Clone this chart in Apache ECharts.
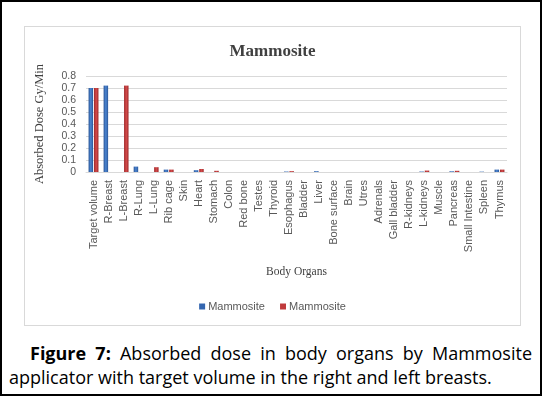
<!DOCTYPE html>
<html>
<head>
<meta charset="utf-8">
<script src="https://cdn.jsdelivr.net/npm/echarts@6/dist/echarts.min.js"></script>
<style>
html,body{margin:0;padding:0;background:#fff;}
#page{position:relative;width:542px;height:396px;box-sizing:border-box;border:2px solid #000;overflow:hidden;background:#fff;}
#chart{position:absolute;left:22px;top:24px;width:497px;height:300px;border:1px solid #d9d9d9;box-sizing:border-box;}
.cap{position:absolute;font-family:"Open Sans",sans-serif;font-size:18px;line-height:24px;color:#000;white-space:nowrap;}
#cap1{left:28px;top:339px;width:502px;text-align:justify;text-align-last:justify;white-space:normal;}
#cap2{left:7px;top:363px;}
</style>
</head>
<body>
<div id="page">
  <div id="chart"></div>
  <div class="cap" id="cap1"><b>Figure 7:</b> Absorbed dose in body organs by Mammosite</div>
  <div class="cap" id="cap2">applicator with target volume in the right and left breasts.</div>
</div>
<script>
const categories = ["Target volume","R-Breast","L-Breast","R-Lung","L-Lung","Rib cage","Skin","Heart","Stomach","Colon","Red bone","Testes","Thyroid","Esophagus","Bladder","Liver","Bone surface","Brain","Utres","Adrenals","Gall bladder","R-kidneys","L-kidneys","Muscle","Pancreas","Small Intestine","Spleen","Thymus"];
const rightBreast = [0.70,0.72,0,0.045,0,0.02,0,0.015,0,0,0,0,0,0.004,0,0.007,0,0,0,0,0,0,0.004,0,0.006,0,0.003,0.02];
const leftBreast  = [0.70,0,0.72,0,0.04,0.02,0,0.025,0.01,0,0,0,0,0.007,0,0,0,0,0,0,0,0,0.012,0,0.01,0,0,0.02];
const seriesNames = ["Mammosite","Mammosite"];
const yTicks = {min:0,max:0.8,interval:0.1};

function grad(dark, light){
  return new echarts.graphic.LinearGradient(0,0,1,0,[
    {offset:0,color:dark},{offset:0.5,color:light},{offset:1,color:dark}
  ]);
}
const chart = echarts.init(document.getElementById('chart'));
chart.setOption({
  animation:false,
  title:{text:'Mammosite',left:'center',top:11,textStyle:{fontFamily:'Liberation Serif',fontSize:17,fontWeight:'bold',color:'#404040'}},
  legend:{bottom:8,left:'center',itemWidth:6,itemHeight:6,itemGap:12,icon:'rect',
    textStyle:{fontFamily:'Liberation Sans',fontSize:11,color:'#595959',padding:[0,0,0,-2]},
    data:[{name:seriesNames[0]+' ',itemStyle:{color:'#3466b0'}},{name:seriesNames[1],itemStyle:{color:'#c03a3c'}}]},
  grid:{left:59,right:13,top:49,bottom:153},
  xAxis:{type:'category',data:categories,
    name:'Body Organs',nameLocation:'middle',nameGap:94,
    nameTextStyle:{fontFamily:'Liberation Serif',fontSize:11.5,color:'#404040'},
    axisLine:{lineStyle:{color:'#d9d9d9'}},axisTick:{show:false},
    axisLabel:{rotate:90,interval:0,margin:8,fontFamily:'Liberation Sans',fontSize:11,color:'#595959'}},
  yAxis:{type:'value',min:yTicks.min,max:yTicks.max,interval:yTicks.interval,
    name:'Absorbed Dose Gy/Min',nameLocation:'middle',nameGap:40,
    nameTextStyle:{fontFamily:'Liberation Serif',fontSize:12.5,color:'#404040'},
    axisLine:{show:false},axisTick:{show:false},
    axisLabel:{margin:10,fontFamily:'Liberation Sans',fontSize:10.5,color:'#595959'},
    splitLine:{lineStyle:{color:'#d9d9d9'}}},
  series:[
    {name:seriesNames[0]+' ',type:'bar',data:rightBreast,barWidth:4.5,barGap:'20%',
      itemStyle:{color:grad('#2a5597','#4c86d2')}},
    {name:seriesNames[1],type:'bar',data:leftBreast,barWidth:4.5,barGap:'20%',
      itemStyle:{color:grad('#9e2a2c','#d44a4a')}}
  ]
});
</script>
</body>
</html>
